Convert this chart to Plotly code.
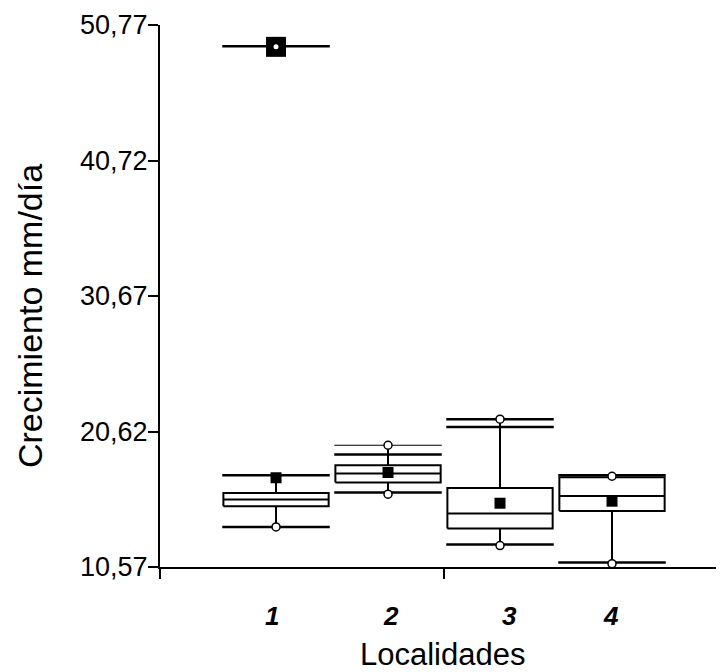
import plotly.graph_objects as go

# ---- data ----
localidades = [1, 2, 3, 4]
cat_labels = ["1", "2", "3", "4"]
q1 = [15.07, 16.83, 13.42, 14.73]
median = [15.57, 17.50, 14.53, 15.84]
q3 = [16.06, 18.12, 16.43, 17.23]
mean = [17.19, 17.58, 15.30, 15.45]
cap_low = [13.54, 16.09, 12.23, 10.90]
cap_high = [17.38, 18.91, 20.96, 17.38]
min_vals = [13.54, 15.97, 12.16, 10.82]
max_vals = [49.15, 19.60, 21.53, 17.30]
max_line = [49.19, 19.60, 21.53, 17.38]
whisker_top = [17.38, 19.60, 21.53, 17.38]

y_ticks = [10.57, 20.62, 30.67, 40.72, 50.77]
y_ticktext = ["10,57", "20,62", "30,67", "40,72", "50,77"]

FONT = "Liberation Sans, Arial, sans-serif"
BOX_HW = 0.47
CAP_HW = 0.48
LABEL_SHIFT = [-4, 3, 9, -1]

fig = go.Figure()

def seg(xs, ys, width=2, color="black"):
    fig.add_trace(go.Scatter(x=xs, y=ys, mode="lines",
                             line=dict(color=color, width=width),
                             hoverinfo="skip", showlegend=False))

for i, c in enumerate(localidades):
    # whiskers
    seg([c, c], [q3[i], whisker_top[i]])
    seg([c, c], [q1[i], min_vals[i]])
    # box
    fig.add_trace(go.Scatter(
        x=[c - BOX_HW, c + BOX_HW, c + BOX_HW, c - BOX_HW, c - BOX_HW],
        y=[q1[i], q1[i], q3[i], q3[i], q1[i]],
        mode="lines", fill="toself", fillcolor="white",
        line=dict(color="black", width=2), hoverinfo="skip", showlegend=False))
    # median
    seg([c - BOX_HW, c + BOX_HW], [median[i], median[i]])
    # caps
    seg([c - CAP_HW, c + CAP_HW], [cap_high[i], cap_high[i]], width=2.5)
    seg([c - CAP_HW, c + CAP_HW], [cap_low[i], cap_low[i]], width=2.5)
    # max line
    if max_line[i] != cap_high[i]:
        seg([c - CAP_HW, c + CAP_HW], [max_line[i], max_line[i]],
            width=1.2 if i == 1 else 2.5)

# outlier marker for locality 1 (big square)
fig.add_trace(go.Scatter(x=[localidades[0]], y=[max_vals[0]], mode="markers",
                         marker=dict(symbol="square", size=20, color="black"),
                         hoverinfo="skip", showlegend=False))
# means
fig.add_trace(go.Scatter(x=localidades, y=mean, mode="markers",
                         marker=dict(symbol="square", size=11, color="black"),
                         hoverinfo="skip", showlegend=False))
# min / max open circles
fig.add_trace(go.Scatter(x=localidades[1:], y=max_vals[1:], mode="markers",
                         marker=dict(symbol="circle", size=8, color="white",
                                     line=dict(color="black", width=1.5)),
                         hoverinfo="skip", showlegend=False))
fig.add_trace(go.Scatter(x=[localidades[0]], y=[max_vals[0]], mode="markers",
                         marker=dict(symbol="circle", size=5, color="white"),
                         hoverinfo="skip", showlegend=False))
fig.add_trace(go.Scatter(x=localidades, y=min_vals, mode="markers",
                         marker=dict(symbol="circle", size=8, color="white",
                                     line=dict(color="black", width=1.5)),
                         hoverinfo="skip", showlegend=False))

annotations = []
for c, t, s in zip(localidades, cat_labels, LABEL_SHIFT):
    annotations.append(dict(x=c, y=0, xref="x", yref="paper", text="<b><i>%s</i></b>" % t,
                            showarrow=False, yanchor="middle", yshift=-49, xshift=s,
                            font=dict(family=FONT, size=26, color="black")))
annotations.append(dict(x=0.5, y=0, xref="paper", yref="paper", text="Localidades",
                        showarrow=False, yanchor="middle", yshift=-87,
                        font=dict(family=FONT, size=31, color="black")))
annotations.append(dict(x=0, y=0.463, xref="paper", yref="paper", text="Crecimiento mm/día",
                        showarrow=False, xanchor="center", yanchor="middle", xshift=-130,
                        textangle=-90,
                        font=dict(family=FONT, size=34, color="black")))

fig.update_layout(
    width=716, height=664,
    margin=dict(l=152, r=0, t=17, b=105),
    plot_bgcolor="white", paper_bgcolor="white",
    showlegend=False,
    annotations=annotations,
    xaxis=dict(range=[-0.036, 5.0], tickvals=[-0.036, 2.5], ticktext=["", ""],
               showgrid=False, zeroline=False, showline=True, linecolor="black",
               linewidth=2, ticks="outside", ticklen=10, tickwidth=2, tickcolor="black"),
    yaxis=dict(range=[10.57, 50.77], tickvals=y_ticks, ticktext=y_ticktext,
               showgrid=False, zeroline=False, showline=True, linecolor="black",
               linewidth=2, ticks="outside", ticklen=10, tickwidth=2, tickcolor="black",
               ticklabelstandoff=-5,
               tickfont=dict(family=FONT, size=27, color="black")),
)

fig.write_html("out.html")
